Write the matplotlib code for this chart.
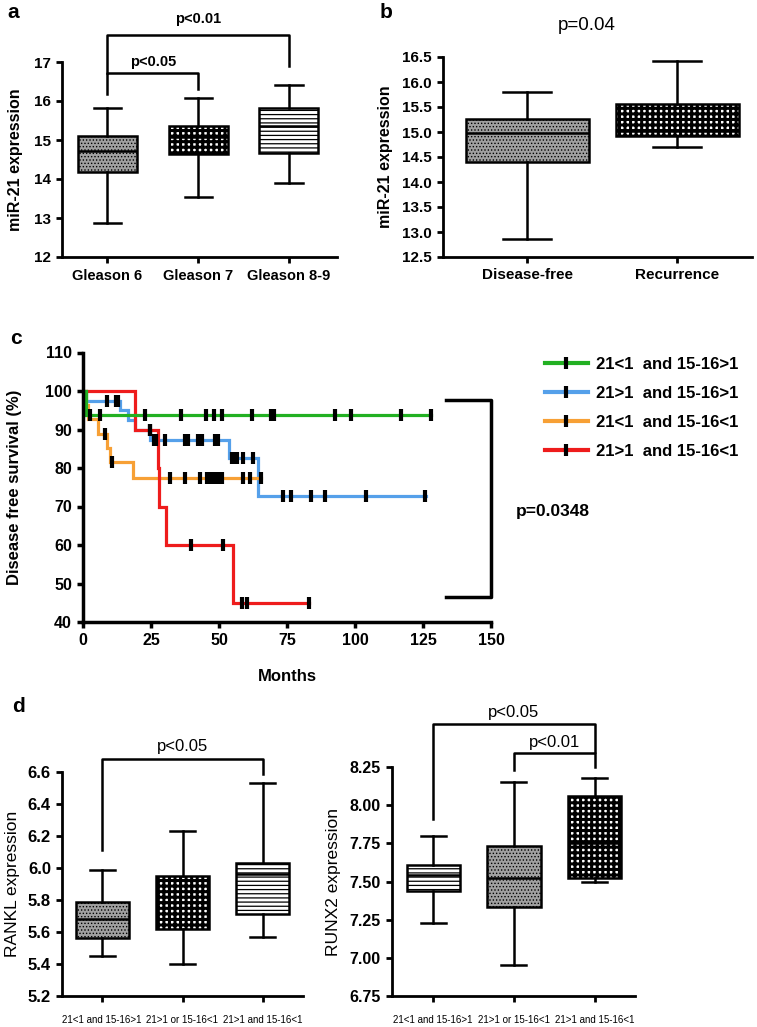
import numpy as np
import matplotlib
matplotlib.use("Agg")
import matplotlib.pyplot as plt
from matplotlib.lines import Line2D

plt.rcParams['font.family'] = ['Liberation Sans', 'DejaVu Sans']
NARROW = ['Liberation Sans Narrow', 'Liberation Sans', 'DejaVu Sans']

# panel a: miR-21 by Gleason score
gleason_labels = ['Gleason 6', 'Gleason 7', 'Gleason 8-9']
gleason_low = [12.87, 13.55, 13.90]
gleason_q1 = [14.17, 14.63, 14.67]
gleason_med = [14.72, 15.08, 15.36]
gleason_q3 = [15.09, 15.36, 15.81]
gleason_high = [15.83, 16.07, 16.42]

# panel b: miR-21 by outcome
outcome_labels = ['Disease-free', 'Recurrence']
outcome_low = [12.87, 14.71]
outcome_q1 = [14.41, 14.92]
outcome_med = [14.98, 15.03]
outcome_q3 = [15.27, 15.57]
outcome_high = [15.81, 16.43]

# panel c: Kaplan-Meier curves (step times, survival after step, end, censored times)
km_labels = ['21<1  and 15-16>1', '21>1  and 15-16>1', '21<1  and 15-16<1', '21>1  and 15-16<1']
km_colors = ['#22b022', '#55a0ea', '#f7a035', '#ee1c1c']
green_t = [0, 1.0]
green_s = [100, 93.75]
green_end = 128
green_cens = [2.5, 6.2, 22.8, 35.9, 45.2, 48.2, 51.1, 62.2, 69.1, 70.2, 92.6, 98.6, 117.0, 127.9]
blue_t = [0, 1.0, 13.5, 16.5, 19.0, 24.8, 53.8, 64.5]
blue_s = [100, 97.5, 95.0, 92.5, 90.0, 87.2, 82.5, 72.8]
blue_end = 126
blue_cens = [8.8, 12.3, 12.9, 24.5, 26.0, 27.0, 30.0, 37.5, 38.6, 42.4, 43.0, 43.6, 48.4,
             49.6, 54.6, 55.5, 56.5, 58.8, 62.4, 73.6, 76.6, 84.0, 88.9, 104.0, 125.7]
orange_t = [0, 1.0, 2.0, 5.5, 9.0, 10.0, 18.4]
orange_s = [100, 96.3, 92.6, 88.9, 85.2, 81.5, 77.4]
orange_end = 65.6
orange_cens = [8.0, 10.8, 31.9, 37.4, 42.9, 45.5, 46.5, 47.5, 48.3, 49.7, 51.2, 58.7, 61.3, 65.6]
red_t = [0, 19.0, 27.6, 27.9, 30.6, 55.3]
red_s = [100, 90, 80, 70, 60, 45]
red_end = 83
red_cens = [24.5, 39.8, 51.5, 58.6, 60.3, 83.0]

# panel d: RANKL and RUNX2 by group
group_labels = ['21<1 and 15-16>1', '21>1 or 15-16<1', '21>1 and 15-16<1']
rankl_low = [5.45, 5.40, 5.57]
rankl_q1 = [5.56, 5.62, 5.71]
rankl_med = [5.68, 5.79, 5.96]
rankl_q3 = [5.79, 5.95, 6.03]
rankl_high = [5.99, 6.23, 6.53]
runx2_low = [7.23, 6.95, 7.50]
runx2_q1 = [7.44, 7.33, 7.52]
runx2_med = [7.54, 7.52, 7.75]
runx2_q3 = [7.61, 7.73, 8.06]
runx2_high = [7.80, 8.15, 8.18]

W, H = 757, 1027
fig = plt.figure(figsize=(W / 100, H / 100), dpi=100)


def px_axes(left, top, right, bottom):
    return fig.add_axes([left / W, 1 - bottom / H, (right - left) / W, (bottom - top) / H])


def style_axis(ax, lw=2.0):
    for s in ['top', 'right']:
        ax.spines[s].set_visible(False)
    for s in ['left', 'bottom']:
        ax.spines[s].set_linewidth(lw)
    ax.tick_params(direction='out', length=4.5, width=lw)


STYLES = {
    'dots': ('#a0a0a0', '.....', 0.6),
    'checker': ('white', '+++', 2.2),
    'lines': ('white', '----', 0.9),
}


def boxes(ax, labels, low, q1, med, q3, high, styles, width, capw):
    stats = [dict(whislo=a, q1=b, med=c, q3=d, whishi=e, label=f)
             for a, b, c, d, e, f in zip(low, q1, med, q3, high, labels)]
    lw = 1.8
    bp = ax.bxp(stats, positions=range(1, len(stats) + 1), widths=width, capwidths=capw,
                patch_artist=True, showfliers=False,
                boxprops=dict(linewidth=lw, edgecolor='black'),
                whiskerprops=dict(linewidth=lw, color='black'),
                capprops=dict(linewidth=lw, color='black'),
                medianprops=dict(linewidth=lw, color='black'))
    for patch, st in zip(bp['boxes'], styles):
        fc, hatch, hlw = STYLES[st]
        patch.set_facecolor(fc)
        patch.set_hatch(hatch)
        if hasattr(patch, 'set_hatch_linewidth'):
            patch.set_hatch_linewidth(hlw)
    return bp


def bracket(ax, x1, x2, y1, y2, top, text, ty, **kw):
    ax.plot([x1, x1, x2, x2], [y1, top, top, y2], color='black', lw=1.8, clip_on=False)
    ax.text((x1 + x2) / 2, ty, text, ha='center', va='center', **kw)


# ---- a ----
ax = px_axes(62, 62, 337, 257)
boxes(ax, gleason_labels, gleason_low, gleason_q1, gleason_med, gleason_q3, gleason_high,
      ['dots', 'checker', 'lines'], 0.65, 0.30)
ax.set_xlim(0.5, 3.53)
ax.set_ylim(12, 17)
ax.set_yticks(range(12, 18))
style_axis(ax)
ax.tick_params(labelsize=11)
for t in ax.get_xticklabels() + ax.get_yticklabels():
    t.set_fontweight('bold')
ax.tick_params(axis='x', labelsize=10.5, pad=4)
ax.set_ylabel('miR-21 expression', fontsize=11.5, fontweight='bold')
ax.yaxis.set_label_coords(-0.142, 0.5)
bracket(ax, 1, 2, 16.19, 16.30, 16.72, 'p<0.05', 17.0, fontsize=10.5, fontweight='bold')
bracket(ax, 1, 3, 16.72, 16.89, 17.70, 'p<0.01', 18.11, fontsize=10.5, fontweight='bold')

# ---- b ----
ax = px_axes(443, 57, 752, 257)
boxes(ax, outcome_labels, outcome_low, outcome_q1, outcome_med, outcome_q3, outcome_high,
      ['dots', 'checker'], 0.82, 0.32)
ax.set_xlim(0.44, 2.5)
ax.set_ylim(12.5, 16.5)
ax.set_yticks(np.arange(12.5, 16.6, 0.5))
ax.yaxis.set_major_formatter(plt.FormatStrFormatter('%.1f'))
style_axis(ax)
ax.tick_params(labelsize=11)
for t in ax.get_xticklabels() + ax.get_yticklabels():
    t.set_fontweight('bold')
ax.set_ylabel('miR-21 expression', fontsize=11.5, fontweight='bold')
ax.yaxis.set_label_coords(-0.162, 0.5)
fig.text(587 / W, 1 - 25 / H, 'p=0.04', ha='center', va='center', fontsize=13.5)

# ---- c ----
ax = px_axes(83, 352.5, 491, 622)
series = [(blue_t, blue_s, blue_end, blue_cens, km_colors[1]),
          (orange_t, orange_s, orange_end, orange_cens, km_colors[2]),
          (red_t, red_s, red_end, red_cens, km_colors[3]),
          (green_t, green_s, green_end, green_cens, km_colors[0])]
for t, s, end, cens, col in series:
    tt = np.r_[t, end]
    ss = np.r_[s, s[-1]]
    ax.step(tt, ss, where='post', color=col, lw=2.3, solid_joinstyle='miter')
    idx = np.searchsorted(np.array(t), np.array(cens), side='right') - 1
    ax.plot(cens, np.array(s)[idx], ls='none', marker='|', ms=8, mew=3, color='black', zorder=5)
ax.set_xlim(0, 150)
ax.set_ylim(40, 110)
ax.set_xticks(range(0, 151, 25))
ax.set_yticks(range(40, 111, 10))
style_axis(ax, lw=2.5)
ax.tick_params(labelsize=11.5)
for tl in ax.get_xticklabels() + ax.get_yticklabels():
    tl.set_fontweight('bold')
ax.set_ylabel('Disease free survival (%)', fontsize=12, fontweight='bold')
ax.yaxis.set_label_coords(-0.15, 0.5)
ax.set_xlabel('Months', fontsize=12, fontweight='bold')
ax.xaxis.set_label_coords(0.5, -0.175)
# p-value bracket
ax.plot([133.5, 150, 150, 133.5], [97.7, 97.7, 46.4, 46.4], color='black', lw=2.5, clip_on=False)
ax.text(159, 68.6, 'p=0.0348', ha='left', va='center', fontsize=12.5, fontweight='bold')
handles = [Line2D([], [], color=c, lw=3, marker='|', mec='black', mfc='black', ms=9, mew=3)
           for c in km_colors]
fig.legend(handles, km_labels, loc='upper left', bbox_to_anchor=(538 / W, 1 - 350 / H),
           frameon=False, handlelength=2.6, labelspacing=0.85, numpoints=1,
           prop=dict(size=12, weight='bold'), borderaxespad=0, handletextpad=0.5)

# ---- d left: RANKL ----
ax = px_axes(62, 772, 303, 996)
boxes(ax, group_labels, rankl_low, rankl_q1, rankl_med, rankl_q3, rankl_high,
      ['dots', 'checker', 'lines'], 0.66, 0.31)
ax.set_xlim(0.5, 3.5)
ax.set_ylim(5.2, 6.6)
ax.set_yticks(np.arange(5.2, 6.61, 0.2))
ax.yaxis.set_major_formatter(plt.FormatStrFormatter('%.1f'))
style_axis(ax)
for tl in ax.get_yticklabels():
    tl.set_fontsize(12)
    tl.set_family(NARROW)
    tl.set_fontweight('bold')
for tl in ax.get_xticklabels():
    tl.set_fontsize(7)
    tl.set_family(NARROW)
ax.tick_params(axis='x', pad=9)
ax.set_ylabel('RANKL expression', fontsize=12.5)
ax.yaxis.set_label_coords(-0.174, 0.5)
bracket(ax, 1, 3, 6.11, 6.59, 6.68, 'p<0.05', 6.76, fontsize=12, family=NARROW)

# ---- d right: RUNX2 ----
ax = px_axes(392, 767, 635, 996)
boxes(ax, group_labels, runx2_low, runx2_q1, runx2_med, runx2_q3, runx2_high,
      ['lines', 'dots', 'checker'], 0.66, 0.31)
ax.set_xlim(0.49, 3.5)
ax.set_ylim(6.75, 8.25)
ax.set_yticks(np.arange(6.75, 8.26, 0.25))
ax.yaxis.set_major_formatter(plt.FormatStrFormatter('%.2f'))
style_axis(ax)
for tl in ax.get_yticklabels():
    tl.set_fontsize(11.5)
    tl.set_family(NARROW)
    tl.set_fontweight('bold')
for tl in ax.get_xticklabels():
    tl.set_fontsize(7)
    tl.set_family(NARROW)
ax.tick_params(axis='x', pad=9)
ax.set_ylabel('RUNX2 expression', fontsize=12.5)
ax.yaxis.set_label_coords(-0.21, 0.5)
bracket(ax, 1, 3, 7.91, 8.35, 8.53, 'p<0.05', 8.61, fontsize=12, family=NARROW)
bracket(ax, 2, 3, 8.23, 8.25, 8.34, 'p<0.01', 8.41, fontsize=12, family=NARROW)

# panel letters
for letter, x, y in [('a', 7, 13), ('b', 380, 12), ('c', 10, 338), ('d', 12, 707)]:
    fig.text(x / W, 1 - y / H, letter, fontsize=15, fontweight='bold', ha='left', va='center')

fig.savefig('out.png', dpi=100)
